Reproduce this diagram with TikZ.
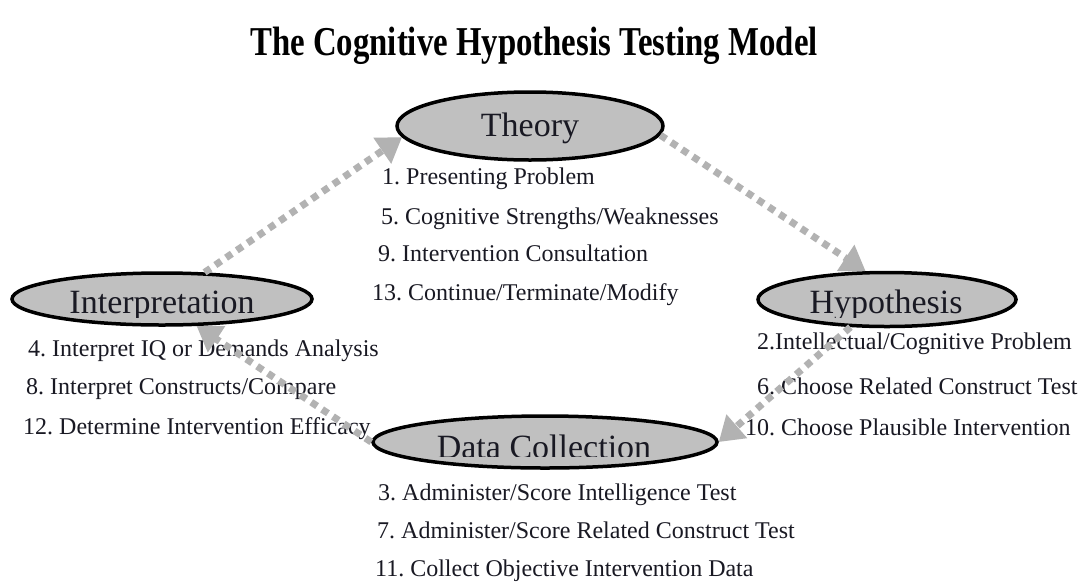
\documentclass[tikz,border=0pt]{standalone}
\usepackage{fontspec}
\setmainfont{Liberation Serif}
\usetikzlibrary{shapes.geometric,arrows.meta}
\definecolor{ellfill}{RGB}{192,192,192}
\definecolor{arrgray}{RGB}{178,178,178}
\definecolor{txt}{RGB}{25,25,35}
\frenchspacing
\tikzset{
  ell/.style={ellipse, draw=black, line width=3.5pt, fill=ellfill, inner sep=0pt},
  elllbl/.style={anchor=base, inner sep=0pt, font=\fontsize{34}{34}\selectfont, text=txt},
  item/.style={anchor=base west, inner sep=0pt, font=\fontsize{24}{24}\selectfont, text=txt},
  titlestyle/.style={anchor=base, inner sep=0pt, font=\fontsize{41}{41}\selectfont\bfseries, text=black},
  dotarrow/.style={draw=arrgray, line width=7pt, dash pattern=on 7pt off 6pt,
    -{Triangle[length=24pt,width=30pt,fill=arrgray]}}
}
\begin{document}
\begin{tikzpicture}[x=1pt,y=-1pt]
\useasboundingbox[fill=white] (0,0) rectangle (1091,584);
\node[titlestyle] (title) at (534,55) {\scalebox{0.8}[1]{The Cognitive Hypothesis Testing Model}};
% ellipses
\node[ell, minimum width=266pt, minimum height=68pt] (theory) at (530,126) {};
\node[ell, minimum width=300pt, minimum height=52pt] (interp) at (162,299) {};
\node[ell, minimum width=258pt, minimum height=54pt] (hyp) at (887,299.5) {};
\node[ell, minimum width=344pt, minimum height=52pt] (dc) at (545,442) {};
% labels
\node[elllbl] (theorylbl) at (530,136) {Theory};
\begin{scope}
\clip (0,0) rectangle (1091,317);
\node[elllbl] (interplbl) at (162,313) {Interpretation};
\node[elllbl] (hyplbl) at (886,313) {Hypothesis};
\end{scope}
\begin{scope}
\clip (0,400) rectangle (1091,456);
\node[elllbl] (dclbl) at (544,458) {Data Collection};
\end{scope}
% lists
\node[item] (t1) at (382,184) {1. Presenting Problem};
\node[item] (t5) at (381,224) {5. Cognitive Strengths/Weaknesses};
\node[item] (t9) at (378,261) {9. Intervention Consultation};
\node[item] (t13) at (372,300) {13. Continue/Terminate/Modify};
\node[item] (i4) at (28,356) {4. Interpret IQ or Demands Analysis};
\node[item] (i8) at (26,394) {8. Interpret Constructs/Compare};
\node[item] (i12) at (23,434) {12. Determine Intervention Efficacy};
\node[item] (h2) at (757,349) {2.Intellectual/Cognitive Problem};
\node[item] (h6) at (757,394) {6. Choose Related Construct Test};
\node[item] (h10) at (745,435) {10. Choose Plausible Intervention};
\node[item] (d3) at (378,500) {3. Administer/Score Intelligence Test};
\node[item] (d7) at (377,538) {7. Administer/Score Related Construct Test};
\node[item] (d11) at (375,576) {11. Collect Objective Intervention Data};
% arrows
\draw[dotarrow] (interp.32) -- (theory.185);
\draw[dotarrow] (theory.-4) -- (hyp.127);
\draw[dotarrow] (hyp.217) -- (dc.east);
\draw[dotarrow] (dc.west) -- (interp.-38);
\end{tikzpicture}
\end{document}
